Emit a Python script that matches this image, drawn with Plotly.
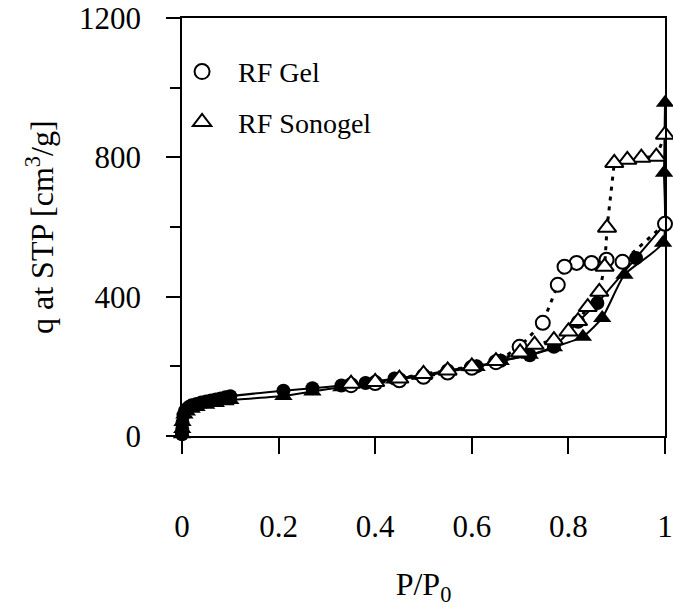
import plotly.graph_objects as go

# RF Gel - adsorption (filled circles)
gel_ads_x = [0.0, 0.0005, 0.001, 0.003, 0.006, 0.01, 0.015, 0.02, 0.03, 0.04, 0.05, 0.06, 0.07, 0.08, 0.09, 0.1,
             0.21, 0.27, 0.33, 0.38, 0.44, 0.5, 0.55, 0.61, 0.66, 0.72, 0.77, 0.82, 0.86, 0.94, 1.0]
gel_ads_q = [5, 20, 38, 60, 72, 78, 84, 88, 92, 96, 99, 102, 105, 108, 111, 114,
             130, 137, 145, 152, 165, 175, 188, 200, 216, 232, 256, 328, 382, 511, 609]

# RF Gel - desorption (open circles)
gel_des_x = [1.0, 0.912, 0.879, 0.848, 0.817, 0.792, 0.778, 0.747, 0.699, 0.65, 0.6, 0.55, 0.5, 0.45, 0.4, 0.35]
gel_des_q = [609, 500, 506, 497, 497, 486, 434, 325, 256, 212, 196, 182, 170, 160, 152, 146]

# RF Sonogel - adsorption (filled triangles)
sono_ads_x = [0.0, 0.0005, 0.001, 0.005, 0.01, 0.02, 0.03, 0.05, 0.07, 0.09, 0.1,
              0.21, 0.27, 0.33, 0.38, 0.44, 0.5, 0.55, 0.61, 0.66, 0.72, 0.77, 0.83, 0.87, 0.916, 0.996, 0.998, 1.0]
sono_ads_q = [5, 20, 40, 62, 70, 78, 83, 90, 95, 100, 103,
              115, 128, 140, 150, 162, 172, 185, 198, 215, 233, 255, 285, 339, 463, 555, 756, 957]

# RF Sonogel - desorption (open triangles)
sono_des_x = [1.0, 0.982, 0.951, 0.922, 0.895, 0.88, 0.875, 0.864, 0.84, 0.82, 0.8, 0.77, 0.73, 0.7,
              0.65, 0.6, 0.55, 0.5, 0.45, 0.4, 0.35]
sono_des_q = [865, 802, 799, 793, 784, 598, 486, 414, 370, 330, 300, 275, 262, 240,
              215, 200, 188, 178, 165, 155, 150]

legend_names = ["RF Gel", "RF Sonogel"]
x_ticks = [0, 0.2, 0.4, 0.6, 0.8, 1]
x_tick_text = ["0", "0.2", "0.4", "0.6", "0.8", "1"]
y_ticks = [0, 400, 800, 1200]
x_title = "P/P<sub>0</sub>"
y_title = "q at STP [cm<sup>3</sup>/g]"

FONT = "Liberation Serif"

fig = go.Figure()

fig.add_trace(go.Scatter(
    x=gel_ads_x, y=gel_ads_q, mode="lines+markers", showlegend=False,
    line=dict(color="black", width=2, shape="spline", smoothing=0.5),
    marker=dict(symbol="circle", size=14, color="black"), cliponaxis=False))
fig.add_trace(go.Scatter(
    x=sono_ads_x, y=sono_ads_q, mode="lines+markers", showlegend=False,
    line=dict(color="black", width=2, shape="spline", smoothing=0.5),
    marker=dict(symbol="triangle-up", size=16, color="black"), cliponaxis=False))
fig.add_trace(go.Scatter(
    x=gel_des_x, y=gel_des_q, mode="lines+markers", showlegend=False,
    line=dict(color="black", width=3, dash="4px,6px"),
    marker=dict(symbol="circle", size=14, color="white", line=dict(color="black", width=2)),
    cliponaxis=False))
fig.add_trace(go.Scatter(
    x=sono_des_x, y=sono_des_q, mode="lines+markers", showlegend=False,
    line=dict(color="black", width=3, dash="4px,6px"),
    marker=dict(symbol="triangle-up", size=16, color="white", line=dict(color="black", width=2)),
    cliponaxis=False))

# legend-only entries
fig.add_trace(go.Scatter(
    x=[None], y=[None], mode="markers", name=legend_names[0], legendgroup="g1",
    marker=dict(symbol="circle-open", size=15, color="black", line=dict(width=2))))
fig.add_trace(go.Scatter(
    x=[None], y=[None], mode="markers", name=legend_names[1], legendgroup="g2",
    marker=dict(symbol="triangle-up-open", size=17, color="black", line=dict(width=2))))

fig.add_annotation(
    text=y_title, textangle=-90, xref="paper", yref="paper",
    x=-0.294, y=0.5, xanchor="center", yanchor="middle", showarrow=False,
    font=dict(family=FONT, size=32, color="black"))

fig.update_layout(
    width=673, height=607,
    margin=dict(l=182, r=7.5, t=18, b=171, autoexpand=False),
    paper_bgcolor="white", plot_bgcolor="white",
    font=dict(family=FONT, size=26, color="black"),
    showlegend=True,
    legend=dict(x=-0.033, y=0.931, xanchor="left", yanchor="top",
                bgcolor="rgba(0,0,0,0)", font=dict(family=FONT, size=28),
                tracegroupgap=11, itemsizing="trace", itemwidth=62),
    xaxis=dict(range=[0, 1], tickvals=x_ticks, ticktext=x_tick_text, automargin=False,
               ticks="outside", ticklen=16, tickwidth=1.5, tickcolor="black",
               showline=True, linecolor="black", linewidth=1.5, mirror=True,
               showgrid=False, zeroline=False, ticklabeloverflow="allow",
               tickfont=dict(family=FONT, size=31), ticklabelstandoff=46,
               title=dict(text=x_title, font=dict(family=FONT, size=32), standoff=33)),
    yaxis=dict(range=[0, 1200], tickvals=y_ticks, automargin=False,
               ticks="outside", ticklen=14, tickwidth=1.5, tickcolor="black",
               minor=dict(dtick=200, ticks="outside", ticklen=10, tickwidth=1.5, tickcolor="black"),
               showline=True, linecolor="black", linewidth=1.5, mirror=True,
               showgrid=False, zeroline=False, ticklabeloverflow="allow",
               tickfont=dict(family=FONT, size=31), ticklabelstandoff=19),
)

fig.write_html("out.html", config={"displayModeBar": False},
               post_script="document.body.style.margin='0';")
